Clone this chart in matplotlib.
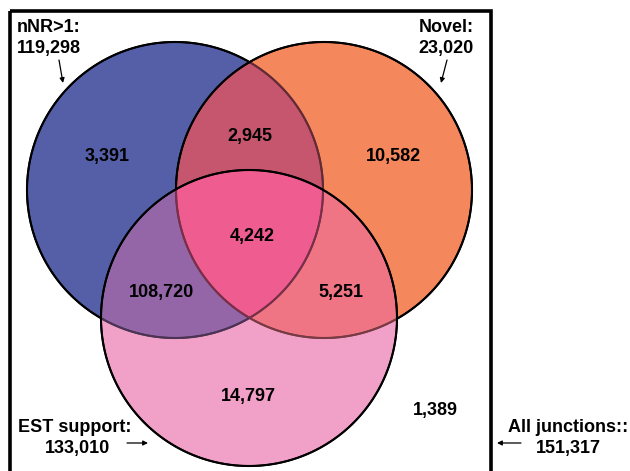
import matplotlib
matplotlib.use("Agg")
import matplotlib.pyplot as plt
import numpy as np
from matplotlib.collections import LineCollection
from matplotlib.patches import Rectangle

plt.rcParams["font.family"] = ["Liberation Sans", "DejaVu Sans"]

# set names and totals
set_names = ["nNR>1:", "Novel:", "EST support:"]
set_totals = [119298, 23020, 133010]
all_name = "All junctions::"
all_total = 151317

# region counts: only A, A&B, only B, A&C, A&B&C, B&C, only C, none
region_keys = ["A", "AB", "B", "AC", "ABC", "BC", "C", "none"]
region_counts = [3391, 2945, 10582, 108720, 4242, 5251, 14797, 1389]

# region fill colours (A = blue, B = orange, C = pink)
region_colors = {
    "A": "#545fa8",
    "B": "#f4875d",
    "C": "#f2a1c8",
    "AB": "#c5566d",
    "AC": "#9566a8",
    "BC": "#f07585",
    "ABC": "#ef5d8f",
}

# layout in pixel space
W, H = 630, 471
centers = [(175, 190), (324, 190), (249, 318)]
R = 148
label_pos = {
    "A": (107, 156), "AB": (250, 137), "B": (393, 156),
    "AC": (161, 293), "ABC": (252, 237), "BC": (341, 292),
    "C": (248, 397), "none": (435, 411),
}


def hex_rgb(h):
    return np.array([int(h[i:i + 2], 16) / 255 for i in (1, 3, 5)])


def key_for(inside):
    k = "".join(s for s, f in zip("ABC", inside) if f)
    return k


fig = plt.figure(figsize=(W / 100, H / 100), dpi=100)
ax = fig.add_axes([0, 0, 1, 1])
ax.set_xlim(0, W)
ax.set_ylim(H, 0)
ax.axis("off")

# region fills
scale = 3
xs = (np.arange(W * scale) + 0.5) / scale
ys = (np.arange(H * scale) + 0.5) / scale
X, Y = np.meshgrid(xs, ys)
img = np.ones((H * scale, W * scale, 4))
img[..., 3] = 0
masks = [(X - cx) ** 2 + (Y - cy) ** 2 <= R ** 2 for cx, cy in centers]
for k, col in region_colors.items():
    m = np.ones_like(X, dtype=bool)
    for s, mk in zip("ABC", masks):
        m &= mk if s in k else ~mk
    img[m, :3] = hex_rgb(col)
    img[m, 3] = 1
ax.imshow(img, extent=(0, W, H, 0), interpolation="bilinear", zorder=1)

# circle outlines, faded where a later circle lies on top
t = np.linspace(0, 2 * np.pi, 721)
for i, (cx, cy) in enumerate(centers):
    px = cx + R * np.cos(t)
    py = cy + R * np.sin(t)
    pts = np.column_stack([px, py])
    segs = np.stack([pts[:-1], pts[1:]], axis=1)
    mx = (px[:-1] + px[1:]) / 2
    my = (py[:-1] + py[1:]) / 2
    cols = []
    for x0, y0 in zip(mx, my):
        inside = [(x0 - a) ** 2 + (y0 - b) ** 2 < R ** 2 - 1 for a, b in centers]
        inside[i] = True
        covered = any(inside[j] for j in range(i + 1, 3))
        if covered:
            c = hex_rgb(region_colors[key_for(inside)]) * 0.5
            cols.append((*c, 1))
        else:
            cols.append((0, 0, 0, 1))
    ax.add_collection(LineCollection(segs, colors=cols, linewidths=1.5, zorder=2,
                                     capstyle="round"))

# outer box
ax.add_patch(Rectangle((9.5, 11), 481, 520, fill=False, lw=2.6,
                       edgecolor="black", zorder=3))

fs = 13
for k, n in zip(region_keys, region_counts):
    x, y = label_pos[k]
    ax.text(x, y, f"{n:,}", ha="center", va="center", fontsize=fs,
            fontweight="bold", zorder=4)

# set labels
ax.text(17, 27, set_names[0], ha="left", va="center", fontsize=fs, fontweight="bold")
ax.text(17, 48, f"{set_totals[0]:,}", ha="left", va="center", fontsize=fs,
        fontweight="bold")
ax.text(474, 27, set_names[1], ha="right", va="center", fontsize=fs, fontweight="bold")
ax.text(474, 48, f"{set_totals[1]:,}", ha="right", va="center", fontsize=fs,
        fontweight="bold")
ax.text(75, 428, set_names[2], ha="center", va="center", fontsize=fs, fontweight="bold")
ax.text(77, 449, f"{set_totals[2]:,}", ha="center", va="center", fontsize=fs,
        fontweight="bold")
ax.text(568, 428, all_name, ha="center", va="center", fontsize=fs, fontweight="bold")
ax.text(568, 449, f"{all_total:,}", ha="center", va="center", fontsize=fs,
        fontweight="bold")

arrows = [((59, 60), (63, 83)), ((447, 60), (441, 83)),
          ((127, 443), (148, 443)), ((521, 443), (497, 443))]
for (x0, y0), (x1, y1) in arrows:
    ax.annotate("", xy=(x1, y1), xytext=(x0, y0),
                arrowprops=dict(arrowstyle="-|>", lw=0.9, color="black",
                                mutation_scale=7, shrinkA=0, shrinkB=0),
                zorder=5)

fig.savefig("out.png", dpi=100)
